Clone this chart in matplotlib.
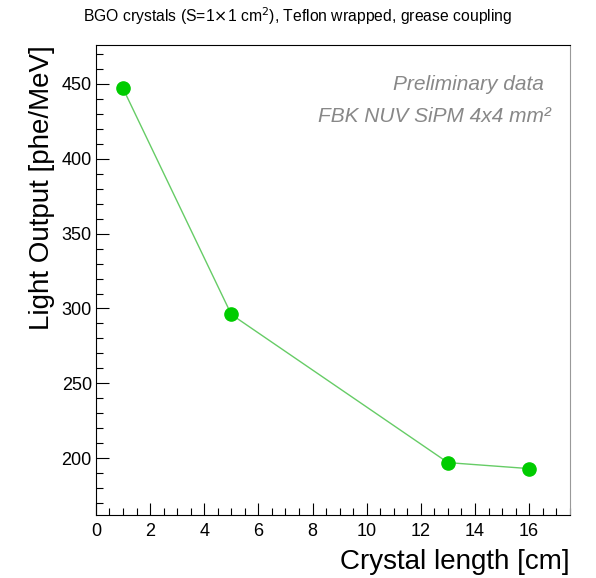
import matplotlib
matplotlib.use("Agg")
import matplotlib.pyplot as plt
from matplotlib.ticker import MultipleLocator

plt.rcParams['font.family'] = ['Liberation Sans', 'DejaVu Sans']

# data
length_cm = [1, 5, 13, 16]
light_output = [447, 296, 197, 193]

title = r"BGO crystals (S=1$\times$1 cm$^2$), Teflon wrapped, grease coupling"

fig = plt.figure(figsize=(5.96, 5.78), dpi=100)
ax = fig.add_axes([0.161, 0.109, 0.795, 0.813])

ax.plot(length_cm, light_output, color="#66cc66", lw=1, zorder=2)
ax.plot(length_cm, light_output, "o", color="#00cc00", ms=9.5, zorder=3)

ax.set_xlim(0, 17.5)
ax.set_ylim(162, 476)
ax.xaxis.set_major_locator(MultipleLocator(2))
ax.xaxis.set_minor_locator(MultipleLocator(0.5))
ax.yaxis.set_major_locator(MultipleLocator(50))
ax.yaxis.set_minor_locator(MultipleLocator(10))
ax.tick_params(which="both", direction="in", top=False, right=False,
               labelsize=13, width=0.8)
ax.tick_params(which="major", length=9)
ax.tick_params(which="minor", length=5)
ax.tick_params(axis="x", pad=6)
ax.tick_params(axis="y", pad=3)
ax.spines["right"].set_color("#999999")

ax.set_xlabel("Crystal length [cm]", fontsize=20, loc="right", labelpad=6)
ax.set_ylabel("Light Output [phe/MeV]", fontsize=20, loc="top", labelpad=5)

ax.text(0.945, 0.917, "Preliminary data", transform=ax.transAxes, ha="right",
        va="center", fontsize=15, style="italic", color="#888888")
ax.text(0.96, 0.848, "FBK NUV SiPM 4x4 mm²", transform=ax.transAxes, ha="right",
        va="center", fontsize=15, style="italic", color="#888888")

fig.text(0.5, 0.972, title, ha="center", va="center", fontsize=11.3)

fig.savefig("out.png", dpi=100)
